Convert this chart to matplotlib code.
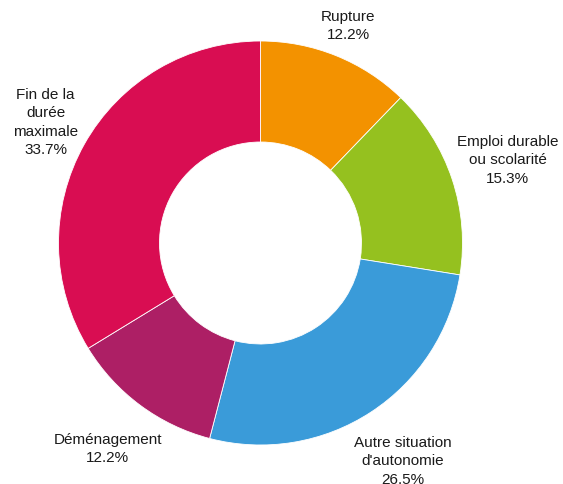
import numpy as np
import matplotlib.pyplot as plt

plt.rcParams['font.family'] = ['Liberation Sans', 'DejaVu Sans']

labels = ["Rupture", "Emploi durable\nou scolarité", "Autre situation\nd'autonomie",
          "Déménagement", "Fin de la\ndurée\nmaximale"]
values = [12.2, 15.3, 26.5, 12.2, 33.7]
colors = ["#F39200", "#95C11F", "#3A9BD9", "#AD1F65", "#D90D52"]
label_dist = [1.16, 1.29, 1.29, 1.27, 1.22]

fig = plt.figure(figsize=(5.63, 4.84), dpi=100)
ax = fig.add_axes([0, 0, 1, 1])

cx, cy, r = 260.5, 241, 202
wedges, _ = ax.pie(values, colors=colors, startangle=90, counterclock=False,
                   center=(cx, cy), radius=r, frame=True,
                   wedgeprops=dict(width=r * 0.5, edgecolor='white', linewidth=0.6))
ax.set_xlim(0, 563)
ax.set_ylim(0, 484)
ax.set_aspect('equal')
ax.axis('off')

for w, lab, v, d in zip(wedges, labels, values, label_dist):
    ang = np.deg2rad((w.theta1 + w.theta2) / 2)
    x = cx + r * d * np.cos(ang)
    y = cy + r * d * np.sin(ang)
    ax.text(x, y, f"{lab}\n{v:.1f}%", ha='center', va='center', fontsize=11,
            linespacing=1.4, color='#1a1a1a')

fig.savefig("out.png", dpi=100)
